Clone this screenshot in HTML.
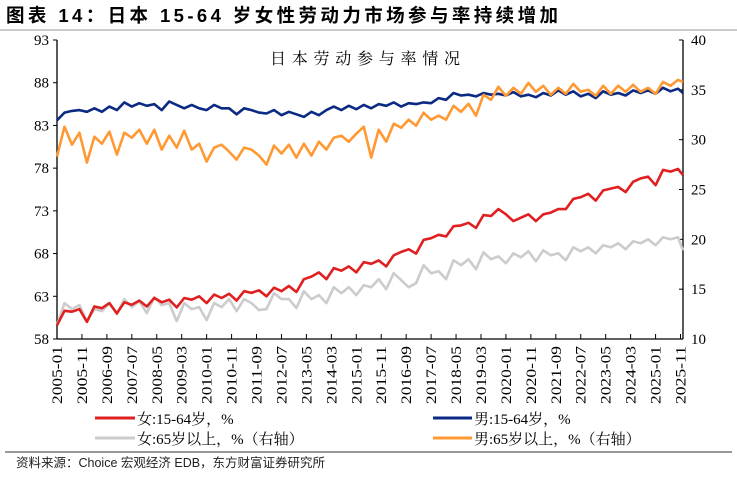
<!DOCTYPE html>
<html><head><meta charset="utf-8">
<style>
body{margin:0;background:#fff;width:737px;height:473px;overflow:hidden;font-family:"Liberation Sans","Noto Sans CJK SC",sans-serif}
svg text{font-family:"Liberation Serif","Noto Serif CJK SC",serif}
</style></head><body>
<svg id="chart" width="737" height="473" xmlns="http://www.w3.org/2000/svg">
<text x="6" y="22" font-size="18.5" font-weight="bold" textLength="552" lengthAdjust="spacing" style="font-family:'Liberation Sans','Noto Sans CJK SC',sans-serif">图表 14：日本 15-64 岁女性劳动力市场参与率持续增加</text>
<line x1="0" y1="30" x2="737" y2="30" stroke="#999" stroke-width="1"/>
<text x="270" y="64" font-size="16" textLength="190" lengthAdjust="spacing" style="font-family:'Noto Serif CJK SC',serif">日本劳动参与率情况</text>
<g id="axes"></g>
<g id="series"></g>
<g>
<line x1="95" y1="418" x2="135" y2="418" stroke="#e02020" stroke-width="3"/>
<text x="137" y="424" font-size="15">女:15-64岁，%</text>
<line x1="433" y1="418" x2="472" y2="418" stroke="#0b2a83" stroke-width="3"/>
<text x="474" y="424" font-size="15">男:15-64岁，%</text>
<line x1="95" y1="438" x2="135" y2="438" stroke="#cccccc" stroke-width="3"/>
<text x="137" y="444" font-size="15">女:65岁以上，%（右轴）</text>
<line x1="433" y1="438" x2="472" y2="438" stroke="#ff9933" stroke-width="3"/>
<text x="474" y="444" font-size="15">男:65岁以上，%（右轴）</text>
</g>
<line x1="5" y1="452" x2="732" y2="452" stroke="#333" stroke-width="1"/>
<text x="16" y="467" font-size="12.5" fill="#222" style="font-family:'Liberation Sans','Noto Sans CJK SC',sans-serif">资料来源：Choice 宏观经济 EDB，东方财富证券研究所</text>
</svg>
<script>
const leftTicks=[58,63,68,73,78,83,88,93];
const rightTicks=[10,15,20,25,30,35,40];
const xTickLabels=["2005-01","2005-11","2006-09","2007-07","2008-05","2009-03","2010-01","2010-11","2011-09","2012-07","2013-05","2014-03","2015-01","2015-11","2016-09","2017-07","2018-05","2019-03","2020-01","2020-11","2021-09","2022-07","2023-05","2024-03","2025-01","2025-11"];
const female1564=[59.6,61.3,61.2,61.5,60.0,61.8,61.6,62.2,61.0,62.3,62.0,62.5,61.8,62.8,62.3,62.6,61.7,62.8,62.6,63.0,62.2,63.2,62.8,63.3,62.5,63.6,63.4,63.7,63.0,64.0,63.6,64.2,63.5,65.0,65.3,65.8,65.0,66.3,66.0,66.5,65.8,67.0,66.8,67.2,66.5,67.8,68.2,68.5,68.0,69.6,69.8,70.2,70.0,71.2,71.3,71.6,71.0,72.5,72.4,73.2,72.6,71.8,72.2,72.6,71.8,72.6,72.8,73.2,73.2,74.4,74.6,75.0,74.2,75.4,75.6,75.8,75.2,76.4,76.8,77.0,76.0,77.8,77.6,77.9,77.2];
const male1564=[83.6,84.5,84.7,84.8,84.6,85.0,84.6,85.2,84.8,85.7,85.2,85.6,85.3,85.5,84.8,85.8,85.4,85.0,85.4,85.0,84.8,85.4,85.0,85.0,84.3,85.0,84.8,84.5,84.4,84.8,84.2,84.6,84.3,84.0,84.6,84.2,84.8,85.2,84.8,85.3,84.9,85.4,85.0,85.5,85.3,85.7,85.2,85.6,85.5,85.7,85.6,86.2,86.0,86.8,86.5,86.6,86.4,86.8,86.6,86.7,86.5,86.9,86.4,86.6,86.3,86.8,86.5,87.1,86.6,87.0,86.4,86.7,86.2,87.0,86.6,86.8,86.5,87.1,86.8,87.1,86.7,87.4,87.0,87.3,86.8];
const female65=[11.4,13.6,13.0,13.4,11.8,13.0,12.8,13.6,12.5,14.0,13.2,13.8,12.6,14.2,13.4,13.6,11.8,13.6,13.0,13.2,11.9,13.6,13.2,14.0,12.8,14.0,13.6,12.9,13.0,14.6,14.0,14.0,13.1,14.8,14.0,14.4,13.6,15.2,14.6,15.2,14.4,15.4,15.2,16.0,15.0,16.6,15.9,15.2,15.6,17.4,16.6,16.8,16.0,17.9,17.4,18.0,17.0,18.7,18.0,18.3,17.6,18.6,18.2,18.8,17.8,18.9,18.4,18.6,17.9,19.2,18.8,19.2,18.6,19.4,19.2,19.6,19.0,19.8,19.6,20.0,19.4,20.2,20.0,20.2,18.9];
const male65=[28.3,31.3,29.5,30.7,27.7,30.3,29.6,30.8,28.5,30.7,30.2,31.0,29.6,31.0,29.0,30.4,29.2,30.9,29.0,29.6,27.8,29.2,29.5,28.8,28.0,29.2,29.0,28.4,27.5,29.4,28.6,29.5,28.2,29.6,28.4,29.8,29.0,30.2,30.4,29.8,30.6,31.3,28.2,31.0,29.8,31.6,31.2,32.0,31.4,32.7,32.0,32.4,32.0,33.4,32.8,33.6,32.4,34.5,34.0,35.3,34.4,35.2,34.6,35.7,34.8,35.4,34.5,35.2,34.6,35.6,34.8,35.0,34.4,35.4,34.6,35.4,34.8,35.5,34.8,35.2,34.6,35.8,35.4,36.0,35.8];

const X0=57,X1=683,Y0=339,Y1=40,NM=251;
const xS=m=>X0+(X1-X0)*m/NM;
const yL=v=>Y0-(v-58)/(93-58)*(Y0-Y1);
const yR=v=>Y0-(v-10)/(40-10)*(Y0-Y1);
const NS="http://www.w3.org/2000/svg";
const axes=document.getElementById('axes'),ser=document.getElementById('series');
function mk(tag,attrs,parent){const e=document.createElementNS(NS,tag);for(const k in attrs)e.setAttribute(k,attrs[k]);parent.appendChild(e);return e;}
let a=mk('line',{x1:X0,y1:Y1,x2:X0,y2:Y0,stroke:'#000','stroke-width':1.3},axes);


a=mk('line',{x1:X1,y1:Y1,x2:X1,y2:Y0,stroke:'#000','stroke-width':1.3},axes);


a=mk('line',{x1:X0,y1:Y0,x2:X1,y2:Y0,stroke:'#000','stroke-width':1.3},axes);


leftTicks.forEach(v=>{const y=yL(v);mk('line',{x1:X0-4,y1:y,x2:X0,y2:y,stroke:'#000'},axes);
const t=mk('text',{x:X0-8,y:y+5,'font-size':15,'text-anchor':'end'},axes);t.textContent=v;

});
rightTicks.forEach(v=>{const y=yR(v);mk('line',{x1:X1-4,y1:y,x2:X1,y2:y,stroke:'#000'},axes);
const t=mk('text',{x:X1+8,y:y+5,'font-size':15},axes);t.textContent=v;

});
xTickLabels.forEach((lab,i)=>{const x=xS(i*10);mk('line',{x1:x,y1:Y0-5,x2:x,y2:Y0,stroke:'#000'},axes);
const t=mk('text',{x:0,y:0,'font-size':15,'text-anchor':'end',textLength:58,lengthAdjust:'spacingAndGlyphs',transform:`translate(${x+5},${Y0+7}) rotate(-90)`},axes);t.textContent=lab;

});
function line(data,ys,color,name){const pts=data.map((v,q)=>xS(Math.min(q*3,NM)).toFixed(1)+','+ys(v).toFixed(1)).join(' ');
const p=mk('polyline',{points:pts,fill:'none',stroke:color,'stroke-width':2.6,'stroke-linejoin':'round'},ser);

}
line(female65,yR,'#cccccc','series-female-65');
line(female1564,yL,'#e02020','series-female-15-64');
line(male1564,yL,'#0b2a83','series-male-15-64');
line(male65,yR,'#ff9933','series-male-65');
</script>
</body></html>
